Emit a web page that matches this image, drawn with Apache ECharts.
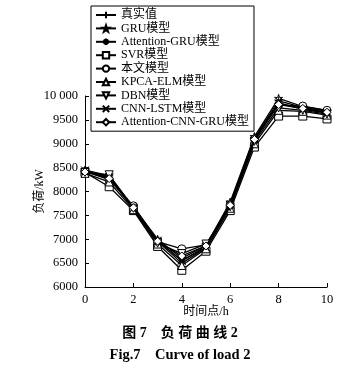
<!DOCTYPE html>
<html><head><meta charset="utf-8">
<script src="https://cdn.jsdelivr.net/npm/echarts@6/dist/echarts.min.js"></script>
<style>html,body{margin:0;padding:0;background:#fff}#c{width:360px;height:370px}</style>
</head><body><div id="c"></div>
<script>
var hours = [0,1,2,3,4,5,6,7,8,9,10];
var seriesNames = ['真实值','GRU模型','Attention-GRU模型','SVR模型','本文模型','KPCA-ELM模型','DBN模型','CNN-LSTM模型','Attention-CNN-GRU模型'];
var actual      = [8420, 8280, 7650, 6950, 6500, 6820, 7700, 9080, 9850, 9740, 9650];
var gru         = [8450, 8330, 7680, 7000, 6600, 6870, 7780, 9150, 9950, 9780, 9700];
var attGru      = [8430, 8300, 7660, 6980, 6550, 6850, 7750, 9120, 9900, 9760, 9680];
var svr         = [8400, 8100, 7600, 6850, 6350, 6750, 7600, 8930, 9580, 9580, 9520];
var proposed    = [8420, 8250, 7700, 6950, 6800, 6880, 7720, 9100, 9810, 9790, 9700];
var kpcaElm     = [8380, 8200, 7620, 6900, 6450, 6800, 7650, 9000, 9700, 9680, 9600];
var dbn         = [8400, 8350, 7650, 6920, 6700, 6900, 7680, 9050, 9750, 9700, 9620];
var cnnLstm     = [8440, 8300, 7640, 6970, 6550, 6830, 7720, 9100, 9850, 9720, 9640];
var attCnnGru   = [8410, 8270, 7660, 6960, 6650, 6860, 7710, 9090, 9820, 9740, 9660];

var allData = [actual, gru, attGru, svr, proposed, kpcaElm, dbn, cnnLstm, attCnnGru];
var symbols = [
  'path://M0,5L10,5M5,0L5,10',
  'path://M5,0L6.2,3.6L10,3.6L6.9,5.9L8.1,9.5L5,7.3L1.9,9.5L3.1,5.9L0,3.6L3.8,3.6Z',
  'path://M0,5L10,5M5,0L5,10M1.5,1.5L8.5,8.5M8.5,1.5L1.5,8.5',
  'rect',
  'circle',
  'triangle',
  'path://M0,0L10,0L5,9Z',
  'path://M0,0L10,10M10,0L0,10',
  'diamond'
];
var filled = [true, false, true, false, false, false, false, true, false];
var FONT = '"Liberation Serif","Noto Sans CJK SC",serif';

function fmt(v){ var s=String(v); return s.length>4 ? s.slice(0,s.length-3)+' '+s.slice(-3) : s; }

var series = seriesNames.map(function(n,i){
  return {
    name: n, type: 'line',
    data: hours.map(function(h,j){ return [h, allData[i][j]]; }),
    symbol: symbols[i], symbolSize: 8,
    lineStyle: {color:'#000', width:1.3},
    itemStyle: {color: filled[i] ? '#000' : '#fff', borderColor:'#000', borderWidth:1},
    emphasis: {disabled:true},
    z: 2 + i
  };
});

var chart = echarts.init(document.getElementById('c'), null, {renderer:'canvas'});
chart.setOption({
  animation: false,
  backgroundColor: '#fff',
  textStyle: {fontFamily: FONT, color:'#000'},
  grid: {left:85, right:33, top:96, bottom:83},
  legend: {
    orient:'vertical', left:91, top:6,
    data: seriesNames,
    itemWidth: 20, itemHeight: 8, itemGap: 1.4,
    padding: [3, 5, 3, 4],
    borderColor:'#000', borderWidth:1,
    textStyle: {fontFamily: FONT, fontSize: 12, color:'#000'}
  },
  xAxis: {
    type:'value', min:0, max:10, interval:2,
    name:'时间点/h', nameLocation:'middle', nameGap:19, nameMoveOverlap:false,
    nameTextStyle:{fontFamily:FONT, fontSize:12, color:'#000'},
    axisLine:{lineStyle:{color:'#000', width:1}},
    axisTick:{inside:true, length:4, lineStyle:{color:'#000'}},
    axisLabel:{fontFamily:FONT, fontSize:12.5, color:'#000', margin:6},
    splitLine:{show:false}
  },
  yAxis: {
    type:'value', min:6000, max:10000, interval:500,
    name:'负荷/kW', nameLocation:'middle', nameGap:39, nameMoveOverlap:false,
    nameTextStyle:{fontFamily:FONT, fontSize:12, color:'#000'},
    axisLine:{show:true, lineStyle:{color:'#000', width:1}},
    axisTick:{show:true, inside:true, length:4, lineStyle:{color:'#000'}},
    axisLabel:{fontFamily:FONT, fontSize:12.5, color:'#000', margin:7, formatter: fmt},
    splitLine:{show:false}
  },
  graphic: [
    {type:'text', left:'center', top:326, style:{text:'图 7　负 荷 曲 线 2', font:'bold 14px '+FONT, fill:'#000'}},
    {type:'text', left:'center', top:348, style:{text:'Fig.7　Curve of load 2', font:'bold 14.5px '+FONT, fill:'#000'}}
  ],
  series: series
});
</script></body></html>
